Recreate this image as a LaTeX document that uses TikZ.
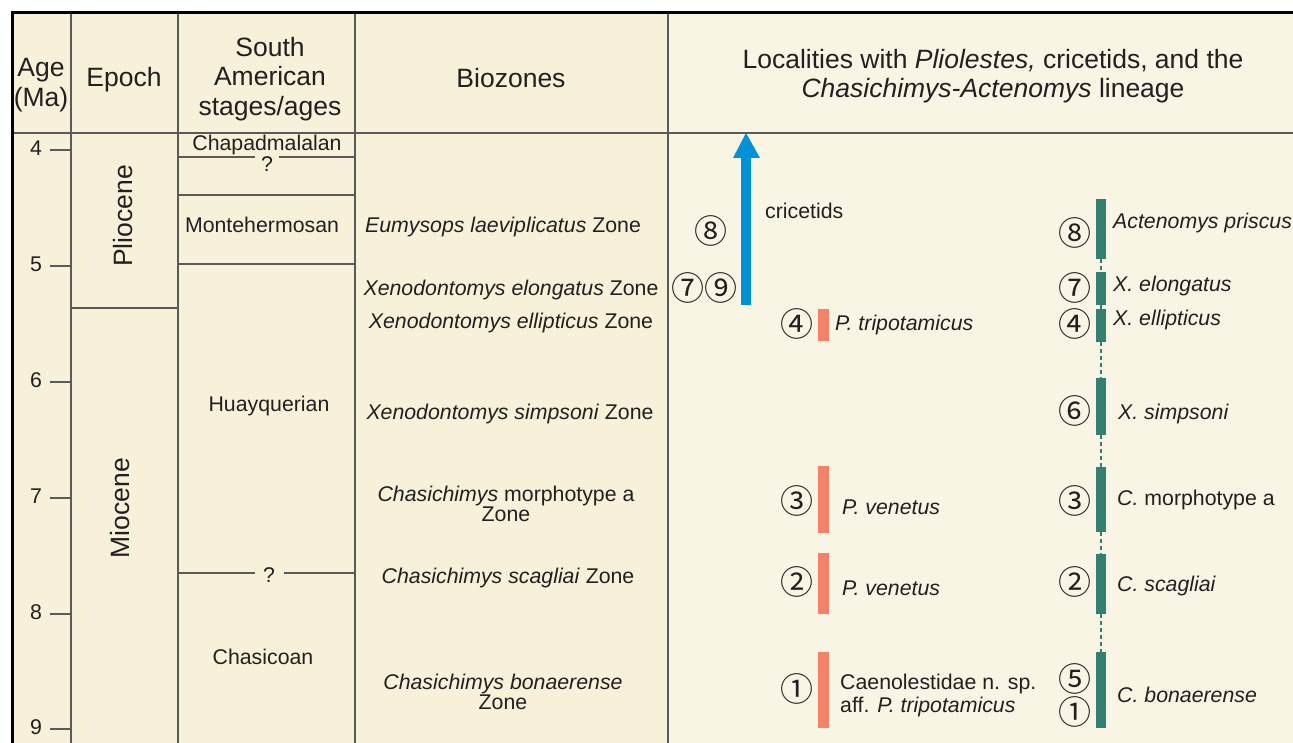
\documentclass[tikz,border=0pt]{standalone}
\usepackage{fontspec}
\setmainfont{Liberation Sans}
\newfontfamily\circfont{Noto Sans CJK JP}
\definecolor{bgL}{RGB}{247,241,218}
\definecolor{bgR}{RGB}{249,245,229}
\definecolor{txt}{RGB}{35,31,32}
\definecolor{rule}{RGB}{90,90,90}
\definecolor{salmon}{RGB}{243,130,103}
\definecolor{teal}{RGB}{52,128,112}
\definecolor{arrowblue}{RGB}{0,146,216}
\tikzset{
  hdr/.style={font=\fontsize{26.5}{29.5}\selectfont, text=txt, align=center, inner sep=0pt},
  body/.style={font=\fontsize{21.3}{24}\selectfont, text=txt, inner sep=0pt},
  zone/.style={font=\fontsize{21.3}{18}\selectfont, text=txt, align=center, inner sep=0pt},
  circ/.style={font=\circfont\fontsize{33}{33}\selectfont, text=txt, inner sep=0pt},
  grid/.style={draw=rule, line width=1.4pt},
  obar/.style={fill=salmon, draw=none, minimum width=11pt, inner sep=0pt},
  gbar/.style={fill=teal, draw=none, minimum width=10pt, inner sep=0pt},
  gdash/.style={draw=teal, line width=1.2pt, dash pattern=on 4pt off 3pt},
  lab/.style={font=\fontsize{21.3}{24}\selectfont\itshape, text=txt, inner sep=0pt, anchor=west},
}
\begin{document}
\begin{tikzpicture}[x=1pt,y=-1pt]
\useasboundingbox (0,0) rectangle (1293,743);
\fill[white] (0,0) rectangle (1293,743);
\fill[bgL] (12,13) rectangle (668,743);
\fill[bgR] (668,13) rectangle (1293,743);
% grid
\draw[grid] (71,13) -- (71,743);
\draw[grid] (178,13) -- (178,743);
\draw[grid] (355,13) -- (355,743);
\draw[grid] (668,13) -- (668,743);
\draw[draw=rule, line width=2pt] (12,133) -- (1293,133);
\draw[black, line width=3pt] (12,743) -- (12,13) -- (1293,13);
% epoch boundary
\draw[grid] (71,308) -- (178,308);
% stage lines
\draw[grid] (178,157) -- (255,157);
\draw[grid] (279,157) -- (355,157);
\draw[grid] (178,195) -- (355,195);
\draw[grid] (178,264) -- (355,264);
\draw[grid] (178,573) -- (255,573);
\draw[grid] (284,573) -- (355,573);
% headers
\node[hdr] (hAge) at (41,85) {Age\\(Ma)};
\node[hdr] (hEpoch) at (124,80) {Epoch};
\node[hdr] (hStage) at (270,79) {South\\American\\stages/ages};
\node[hdr] (hZone) at (511,78) {Biozones};
\node[hdr] (hLoc) at (993,76) {Localities with \textit{Pliolestes,} cricetids, and the\\\textit{Chasichimys-Actenomys} lineage};
% age ticks
\foreach \a/\y in {4/150,5/266,6/382,7/498,8/614,9/729}{
  \draw[grid] (50,\y) -- (71,\y);
  \node[body] (age\a) at (36,\y-2) {\a};
}
% epochs
\node[hdr, rotate=90] (plio) at (123,216) {Pliocene};
\node[hdr, rotate=90] (mio) at (120,508) {Miocene};
% stages
\node[body] (chap) at (267,145) {Chapadmalalan};
\node[body] (q1) at (267,164) {?};
\node[body] (monte) at (262,225) {Montehermosan};
\node[body] (huay) at (269,406) {Huayquerian};
\node[body] (q2) at (269,575) {?};
\node[body] (chas) at (263,657) {Chasicoan};
% biozones
\node[zone] (z1) at (503,227) {\textit{Eumysops laeviplicatus} Zone};
\node[zone] (z2) at (511,290) {\textit{Xenodontomys elongatus} Zone};
\node[zone] (z3) at (511,323) {\textit{Xenodontomys ellipticus} Zone};
\node[zone] (z4) at (510,414) {\textit{Xenodontomys simpsoni} Zone};
\node[zone] (z5) at (506,504) {\textit{Chasichimys} morphotype a\\Zone};
\node[zone] (z6) at (508,578) {\textit{Chasichimys scagliai} Zone};
\node[zone] (z7) at (503,692) {\textit{Chasichimys bonaerense}\\Zone};
% cricetid arrow
\coordinate (arrB) at (746,305);
\coordinate (arrT) at (746,133);
\fill[arrowblue] (741,305) -- (741,158) -- (733,158) -- (746,133) -- (760,158) -- (751,158) -- (751,305) -- cycle;
\node[body, anchor=west] (cric) at (765,211) {cricetids};
\node[circ] (a8) at (711,231) {⑧};
\node[circ] (a79) at (704,288) {⑦⑨};
% Pliolestes bars
\node[obar, minimum height=32pt] (o4) at (823.5,325) {};
\node[obar, minimum height=67pt] (o3) at (823.5,499.5) {};
\node[obar, minimum height=61pt] (o2) at (823.5,583.5) {};
\node[obar, minimum height=76pt] (o1) at (823.5,690) {};
\node[circ] (p4) at (797,324) {④};
\node[circ] (p3) at (797,501) {③};
\node[circ] (p2) at (797,582) {②};
\node[circ] (p1) at (797,689) {①};
\node[lab] (lp4) at (835,325) {P. tripotamicus};
\node[lab] (lp3) at (842,507) {P. venetus};
\node[lab] (lp2) at (842,588) {P. venetus};
\node[body, anchor=west, align=left, font=\fontsize{21.3}{23}\selectfont] (lp1) at (840,695) {Caenolestidae n. sp.\\aff. \textit{P. tripotamicus}};
% Chasichimys-Actenomys lineage
\node[gbar, minimum height=60pt] (g8) at (1101,229) {};
\node[gbar, minimum height=33pt] (g7) at (1101,288.5) {};
\node[gbar, minimum height=33pt] (g4) at (1101,325.5) {};
\node[gbar, minimum height=57pt] (g6) at (1101,406.5) {};
\node[gbar, minimum height=65pt] (g3) at (1101,499.5) {};
\node[gbar, minimum height=60pt] (g2) at (1101,584) {};
\node[gbar, minimum height=76pt] (g1) at (1101,690) {};
\draw[gdash] (g8.south) -- (g7.north);
\draw[gdash] (g7.south) -- (g4.north);
\draw[gdash] (g4.south) -- (g6.north);
\draw[gdash] (g6.south) -- (g3.north);
\draw[gdash] (g3.south) -- (g2.north);
\draw[gdash] (g2.south) -- (g1.north);
\node[circ] (r8) at (1075,233) {⑧};
\node[circ] (r7) at (1075,288) {⑦};
\node[circ] (r4) at (1075,324) {④};
\node[circ] (r6) at (1075,411) {⑥};
\node[circ] (r3) at (1075,501) {③};
\node[circ] (r2) at (1075,582) {②};
\node[circ] (r5) at (1075,678.5) {⑤};
\node[circ] (r1) at (1075,712) {①};
\node[lab] (l8) at (1113,223) {Actenomys priscus};
\node[lab] (l7) at (1113,286) {X. elongatus};
\node[lab] (l4) at (1113,320) {X. ellipticus};
\node[lab] (l6) at (1118,414) {X. simpsoni};
\node[body, anchor=west] (l3) at (1117,500) {\textit{C.} morphotype a};
\node[lab] (l2) at (1117,586) {C. scagliai};
\node[lab] (l1) at (1117,695) {C. bonaerense};
\end{tikzpicture}
\end{document}
